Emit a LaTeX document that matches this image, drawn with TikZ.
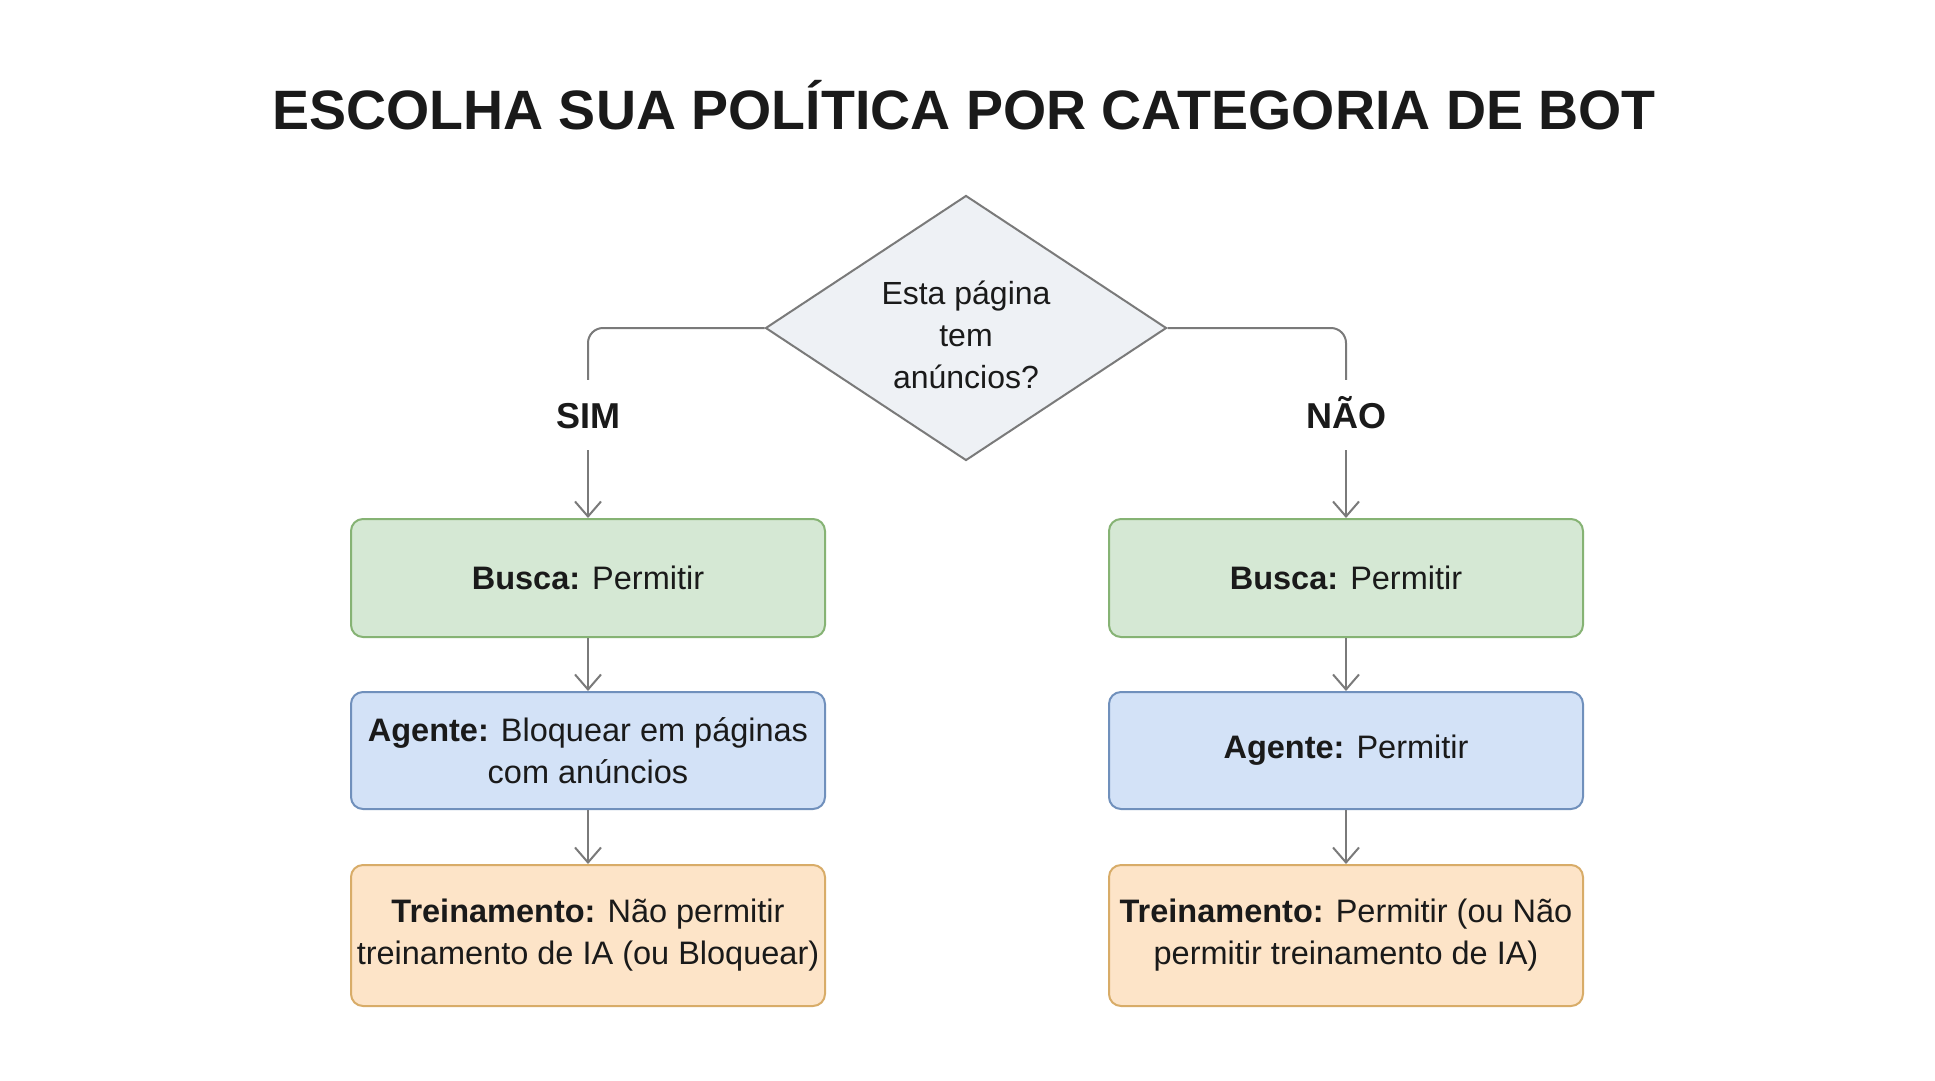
\documentclass[tikz,border=0pt]{standalone}
\usepackage{fontspec}
\setmainfont{Liberation Sans}
\usepackage{tikz}
\usetikzlibrary{shapes.geometric, arrows.meta, positioning}
\definecolor{textblack}{HTML}{1A1A1A}
\definecolor{linegray}{HTML}{7A7A7A}
\definecolor{greenfill}{HTML}{D5E8D4}
\definecolor{greendraw}{HTML}{86B374}
\definecolor{bluefill}{HTML}{D3E2F7}
\definecolor{bluedraw}{HTML}{7090BC}
\definecolor{orangefill}{HTML}{FDE4C8}
\definecolor{orangedraw}{HTML}{D8AC68}
\definecolor{diamondfill}{HTML}{EEF1F5}
\tikzstyle{block} = [rectangle, draw, line width=2pt, rounded corners=12pt, minimum width=474pt, align=center, text=textblack, font=\fontsize{32.5}{42}\selectfont]
\tikzstyle{search} = [block, fill=greenfill, draw=greendraw, minimum height=118pt]
\tikzstyle{agent} = [block, fill=bluefill, draw=bluedraw, minimum height=117pt]
\tikzstyle{training} = [block, fill=orangefill, draw=orangedraw, minimum height=141pt]
\tikzstyle{decision} = [diamond, shape aspect=1.5, draw=linegray, fill=diamondfill, line width=2pt, minimum width=401pt, minimum height=265pt, inner sep=0pt, align=center, text=textblack, font=\fontsize{32}{42}\selectfont]
\tikzstyle{answer} = [inner sep=0pt, minimum height=70pt, text height=26pt, text depth=0pt, text=textblack, font=\bfseries\fontsize{36}{40}\selectfont]
\tikzstyle{connector} = [line width=2pt, draw=linegray, rounded corners=15pt]
\tikzstyle{arrow} = [line width=2pt, draw=linegray, -{Straight Barb[length=15pt,width=26pt]}]

\begin{document}
\begin{tikzpicture}[x=1pt, y=-1pt]

\fill[white] (0,0) rectangle (1935,1080);
\useasboundingbox (0,0) rectangle (1935,1080);

% Title
\node (title) [text=textblack, font=\bfseries\fontsize{55.5}{64}\selectfont] at (964,105) {ESCOLHA SUA POLÍTICA POR CATEGORIA DE BOT};

% Question
\node (decision) [decision] at (966,328) {\rule{0pt}{38pt}Esta página\\tem\\anúncios?};

% Answers
\node (sim) [answer] at (588,415) {SIM};
\node (nao) [answer] at (1346,415) {NÃO};

% Left column
\node (searchsim) [search, anchor=north] at (588,518) {\textbf{Busca:} Permitir};
\node (agentsim) [agent, anchor=north] at ([yshift=-53pt]searchsim.south) {\textbf{Agente:} Bloquear em páginas\\com anúncios};
\node (trainingsim) [training, anchor=north] at ([yshift=-54pt]agentsim.south) {\textbf{Treinamento:} Não permitir\\treinamento de IA (ou Bloquear)};

% Right column
\node (searchnao) [search, anchor=north] at (1346,518) {\textbf{Busca:} Permitir};
\node (agentnao) [agent, anchor=north] at ([yshift=-53pt]searchnao.south) {\textbf{Agente:} Permitir};
\node (trainingnao) [training, anchor=north] at ([yshift=-54pt]agentnao.south) {\textbf{Treinamento:} Permitir (ou Não\\permitir treinamento de IA)};

% Branches
\draw [connector] (decision.west) -| (sim.north);
\draw [connector] (decision.east) -| (nao.north);

% Arrows
\draw [arrow] (sim) -- (searchsim);
\draw [arrow] (searchsim) -- (agentsim);
\draw [arrow] (agentsim) -- (trainingsim);
\draw [arrow] (nao) -- (searchnao);
\draw [arrow] (searchnao) -- (agentnao);
\draw [arrow] (agentnao) -- (trainingnao);

\end{tikzpicture}
\end{document}
